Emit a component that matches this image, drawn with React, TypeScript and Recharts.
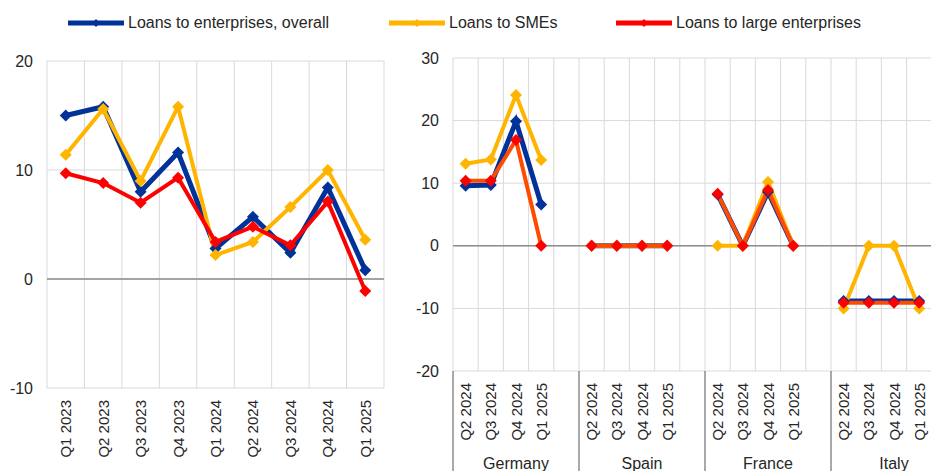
import React from 'react';
import { LineChart, Line, XAxis, YAxis, CartesianGrid, ReferenceLine } from 'recharts';

// left panel: euro area, quarterly
const QUARTERS = ['Q1 2023', 'Q2 2023', 'Q3 2023', 'Q4 2023', 'Q1 2024', 'Q2 2024', 'Q3 2024', 'Q4 2024', 'Q1 2025'];
const OVERALL = [15.0, 15.8, 8.0, 11.6, 2.8, 5.7, 2.4, 8.4, 0.8];
const SMES = [11.4, 15.6, 9.0, 15.8, 2.2, 3.4, 6.6, 10.0, 3.6];
const LARGE = [9.7, 8.8, 7.0, 9.3, 3.4, 4.8, 3.1, 7.1, -1.1];
const LEFT_TICKS = [-10, 0, 10, 20];

// right panel: by country
const COUNTRIES = ['Germany', 'Spain', 'France', 'Italy'];
const COUNTRY_QUARTERS = ['Q2 2024', 'Q3 2024', 'Q4 2024', 'Q1 2025'];
const COUNTRY_OVERALL = [[9.6, 9.7, 19.9, 6.6], [0, 0, 0, 0], [8.2, 0, 8.6, 0], [-8.8, -8.8, -8.8, -8.8]];
const COUNTRY_SMES = [[13.1, 13.8, 24.1, 13.7], [0, 0, 0, 0], [0, 0, 10.2, 0], [-10, 0, 0, -10]];
const COUNTRY_LARGE = [[10.4, 10.4, 16.9, 0], [0, 0, 0, 0], [8.3, 0, 8.9, 0], [-9.1, -9.1, -9.1, -9.1]];
const RIGHT_TICKS = [-20, -10, 0, 10, 20, 30];

const BLUE = '#003299';
const YELLOW = '#ffb400';
const RED = '#ff0000';
const ORANGE = '#ff4b00';
const GRID = '#d9d9d9';
const AXIS = '#8c8c8c';
const TEXT = '#262626';
const FONT = 'Arial, "Liberation Sans", sans-serif';

const SLOTS = COUNTRY_QUARTERS.length + 1;

const leftData = QUARTERS.map((label, i) => ({
  x: i + 0.5,
  label,
  overall: OVERALL[i],
  smes: SMES[i],
  large: LARGE[i],
}));

const rightData: any[] = [];
COUNTRIES.forEach((c, g) => {
  COUNTRY_QUARTERS.forEach((q, k) => {
    rightData.push({
      x: g * SLOTS + k + 0.5,
      overall: COUNTRY_OVERALL[g][k],
      smes: COUNTRY_SMES[g][k],
      large: COUNTRY_LARGE[g][k],
    });
  });
  rightData.push({ x: g * SLOTS + SLOTS - 0.5, overall: null, smes: null, large: null });
});

const leftBounds = QUARTERS.map((_, i) => i).concat([QUARTERS.length]);
const rightSlots = COUNTRIES.length * SLOTS;
const rightBounds = Array.from({ length: rightSlots + 1 }, (_, i) => i);
const rightQuarterTicks = rightData.filter((d) => d.overall !== null).map((d) => d.x);
const groupTicks = COUNTRIES.map((_, g) => g * SLOTS + SLOTS / 2);
const sepTicks = COUNTRIES.map((_, g) => g * SLOTS).concat([rightSlots]);

const diamond = (color: string, r = 6) => (p: any) => {
  if (p.cx == null || p.cy == null || p.value == null) return <g key={`d-${p.index}`} />;
  const { cx, cy } = p;
  return (
    <polygon
      key={`d-${p.index}`}
      points={`${cx},${cy - r} ${cx + r},${cy} ${cx},${cy + r} ${cx - r},${cy}`}
      fill={color}
    />
  );
};

const RotatedTick = ({ x, y, payload, labels }: any) => (
  <text
    x={x}
    y={y}
    transform={`rotate(-90, ${x}, ${y})`}
    textAnchor="end"
    dominantBaseline="central"
    fontSize={15}
    fill={TEXT}
    fontFamily={FONT}
  >
    {labels[Math.floor(payload.value) % labels.length]}
  </text>
);

const GroupTick = ({ x, y, payload }: any) => (
  <text x={x} y={y} textAnchor="middle" dominantBaseline="central" fontSize={16} fill={TEXT} fontFamily={FONT}>
    {COUNTRIES[Math.floor(payload.value / SLOTS)]}
  </text>
);

// group separator running down from the plot bottom
const SepTick = ({ x, y }: any) => <line x1={x} y1={y} x2={x} y2={y + 110} stroke={AXIS} strokeWidth={1.5} />;

const LegendItem = ({ left, color, label }: { left: number; color: string; label: string }) => (
  <div style={{ position: 'absolute', left, top: 12, height: 22, display: 'flex', alignItems: 'center' }}>
    <svg width={56} height={10} style={{ marginRight: 4 }}>
      <line x1={0} y1={5} x2={56} y2={5} stroke={color} strokeWidth={5} />
      <polygon points="28,1 32,5 28,9 24,5" fill={color} />
    </svg>
    <span style={{ fontSize: 16, color: TEXT, fontFamily: FONT, whiteSpace: 'nowrap' }}>{label}</span>
  </div>
);

const App: React.FC = () => {
  return (
    <div
      style={{
        position: 'fixed',
        left: 0,
        top: 0,
        width: 931,
        height: 471,
        overflow: 'hidden',
        background: '#fff',
        fontFamily: FONT,
      }}
    >
      <LegendItem left={68} color={BLUE} label="Loans to enterprises, overall" />
      <LegendItem left={389} color={YELLOW} label="Loans to SMEs" />
      <LegendItem left={616} color={RED} label="Loans to large enterprises" />

      <div style={{ position: 'absolute', left: 0, top: 0 }}>
        <LineChart width={400} height={471} data={leftData} margin={{ top: 61, right: 16, left: 0, bottom: 0 }}>
          <CartesianGrid stroke={GRID} vertical={false} />
          <XAxis
            dataKey="x"
            type="number"
            domain={[0, QUARTERS.length]}
            ticks={leftData.map((d) => d.x)}
            interval={0}
            height={83}
            axisLine={false}
            tickLine={false}
            tickMargin={6}
            tick={<RotatedTick labels={QUARTERS} />}
          />
          <YAxis
            domain={[-10, 20]}
            ticks={LEFT_TICKS}
            width={47}
            axisLine={false}
            tickLine={false}
            tickSize={0}
            tickMargin={14}
            tick={{ fontSize: 16, fill: TEXT, fontFamily: FONT }}
          />
          {leftBounds.map((b) => (
            <ReferenceLine key={`lb-${b}`} x={b} stroke={GRID} />
          ))}
          <ReferenceLine y={0} stroke={AXIS} strokeWidth={1.5} />
          <Line dataKey="overall" stroke={BLUE} strokeWidth={5} dot={diamond(BLUE)} activeDot={false} isAnimationActive={false} />
          <Line dataKey="smes" stroke={YELLOW} strokeWidth={4} dot={diamond(YELLOW)} activeDot={false} isAnimationActive={false} />
          <Line dataKey="large" stroke={RED} strokeWidth={4} dot={diamond(RED)} activeDot={false} isAnimationActive={false} />
        </LineChart>
      </div>

      <div style={{ position: 'absolute', left: 400, top: 0 }}>
        <LineChart width={600} height={490} data={rightData} margin={{ top: 58, right: 43, left: 0, bottom: 0 }}>
          <CartesianGrid stroke={GRID} vertical={false} yAxisId="r" />
          {/* bottom axes: country names (outermost), quarters, separators (nearest the plot) */}
          <XAxis
            xAxisId="c_g"
            type="number"
            dataKey="x"
            domain={[0, rightSlots]}
            ticks={groupTicks}
            interval={0}
            height={39}
            axisLine={false}
            tickLine={false}
            tickSize={0}
            tickMargin={12}
            tick={<GroupTick />}
          />
          <XAxis
            xAxisId="b_q"
            type="number"
            dataKey="x"
            domain={[0, rightSlots]}
            ticks={rightQuarterTicks}
            interval={0}
            height={79}
            axisLine={false}
            tickLine={false}
            tickMargin={5}
            tick={<RotatedTick labels={COUNTRY_QUARTERS.concat([''])} />}
          />
          <XAxis
            xAxisId="a_sep"
            type="number"
            dataKey="x"
            domain={[0, rightSlots]}
            ticks={sepTicks}
            interval={0}
            height={1}
            axisLine={false}
            tickLine={false}
            tickSize={0}
            tickMargin={0}
            tick={<SepTick />}
          />
          <YAxis
            yAxisId="r"
            domain={[-20, 30]}
            ticks={RIGHT_TICKS}
            width={53}
            axisLine={false}
            tickLine={false}
            tickSize={0}
            tickMargin={14}
            tick={{ fontSize: 16, fill: TEXT, fontFamily: FONT }}
          />
          {rightBounds.map((b) => (
            <ReferenceLine key={`rb-${b}`} x={b} xAxisId="b_q" yAxisId="r" stroke={GRID} />
          ))}
          <ReferenceLine y={0} xAxisId="b_q" yAxisId="r" stroke={AXIS} strokeWidth={1.5} />
          <Line xAxisId="b_q" yAxisId="r" dataKey="overall" stroke={BLUE} strokeWidth={5} dot={diamond(BLUE)} activeDot={false} isAnimationActive={false} />
          <Line xAxisId="b_q" yAxisId="r" dataKey="smes" stroke={YELLOW} strokeWidth={4} dot={diamond(YELLOW)} activeDot={false} isAnimationActive={false} />
          <Line xAxisId="b_q" yAxisId="r" dataKey="large" stroke={ORANGE} strokeWidth={4} dot={diamond(RED)} activeDot={false} isAnimationActive={false} />
        </LineChart>
      </div>
    </div>
  );
};

export default App;
